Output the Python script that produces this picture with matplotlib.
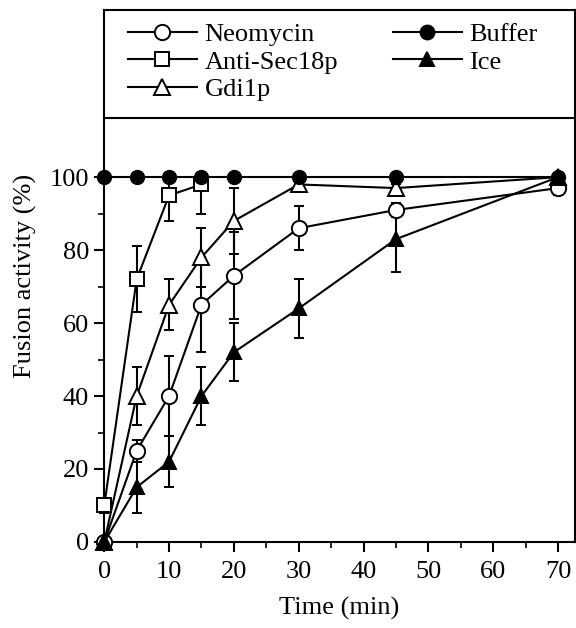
import matplotlib
matplotlib.use('Agg')
import matplotlib.pyplot as plt
from matplotlib.lines import Line2D
from matplotlib.ticker import MultipleLocator

# data
time_all = [0, 5, 10, 15, 20, 30, 45, 70]
time_sec18 = [0, 5, 10, 15]

neomycin = [0, 25, 40, 65, 73, 86, 91, 97]
neomycin_err = [0, 3, 11, 13, 12, 6, 2, 2]

anti_sec18p = [10, 72, 95, 98]
anti_sec18p_lo = [2, 9, 7, 8]
anti_sec18p_hi = [2, 9, 5, 2]

gdi1p = [0, 40, 65, 78, 88, 98, 97, 100]
gdi1p_err = [0, 8, 7, 8, 9, 2, 1, 0]

buffer_vals = [100, 100, 100, 100, 100, 100, 100, 100]

ice = [0, 15, 22, 40, 52, 64, 83, 100]
ice_err = [0, 7, 7, 8, 8, 8, 9, 0]

plt.rcParams['font.family'] = ['Liberation Serif', 'DejaVu Serif']
plt.rcParams['font.size'] = 19

fig = plt.figure(figsize=(5.76, 6.28), dpi=100)
ax = fig.add_axes([0.181, 0.137, 0.817, 0.847])

common = dict(color='black', lw=1.5, capsize=3.5, elinewidth=1.5,
              capthick=1.5, clip_on=False, markeredgewidth=1.4)

styles = {
    'Neomycin': dict(marker='o', ms=11, mfc='white'),
    'Anti-Sec18p': dict(marker='s', ms=10, mfc='white'),
    'Gdi1p': dict(marker='^', ms=11, mfc='white'),
    'Buffer': dict(marker='o', ms=10, mfc='black'),
    'Ice': dict(marker='^', ms=10, mfc='black'),
}

ax.errorbar(time_all, neomycin, yerr=neomycin_err, mec='black', zorder=4,
            **styles['Neomycin'], **common)
ax.errorbar(time_sec18, anti_sec18p, yerr=[anti_sec18p_lo, anti_sec18p_hi],
            mec='black', zorder=4, **styles['Anti-Sec18p'], **common)
ax.errorbar(time_all, gdi1p, yerr=gdi1p_err, mec='black', zorder=4,
            **styles['Gdi1p'], **common)
ax.plot(time_all, buffer_vals, color='black', lw=1.5, mec='black',
        clip_on=False, zorder=5, **styles['Buffer'])
ax.errorbar(time_all, ice, yerr=ice_err, mec='black', zorder=4,
            **styles['Ice'], **common)

ax.set_xlim(0, 72.6)
ax.set_ylim(0, 145.8)
ax.axhline(116.2, color='black', lw=1.5)

ax.set_xticks(range(0, 71, 10))
ax.xaxis.set_minor_locator(MultipleLocator(5))
ax.set_yticks(range(0, 101, 20))
ax.set_yticks(range(10, 100, 20), minor=True)

ax.tick_params(which='major', direction='out', length=7, width=1.5, pad=7)
ax.tick_params(which='minor', direction='out', length=4, width=1.2)
ax.tick_params(axis='y', which='major', pad=4)
for s in ax.spines.values():
    s.set_linewidth(1.5)

ax.set_xlabel('Time (min)', labelpad=10)
ax.set_ylabel('Fusion activity (%)', labelpad=9)


def make_handle(name):
    return Line2D([], [], color='black', lw=1.5, mec='black',
                  markeredgewidth=1.4, **styles[name])


leg_kw = dict(frameon=False, loc='upper left', handlelength=2.6,
              handletextpad=0.3, labelspacing=0.14, borderpad=0,
              borderaxespad=0, bbox_transform=fig.transFigure)

col1 = ['Neomycin', 'Anti-Sec18p', 'Gdi1p']
col2 = ['Buffer', 'Ice']
leg1 = ax.legend([make_handle(n) for n in col1], col1,
                 bbox_to_anchor=(128 / 576, 1 - 23 / 628), **leg_kw)
ax.add_artist(leg1)
ax.legend([make_handle(n) for n in col2], col2,
          bbox_to_anchor=(393 / 576, 1 - 23 / 628), **leg_kw)

fig.savefig('out.png', dpi=100)
